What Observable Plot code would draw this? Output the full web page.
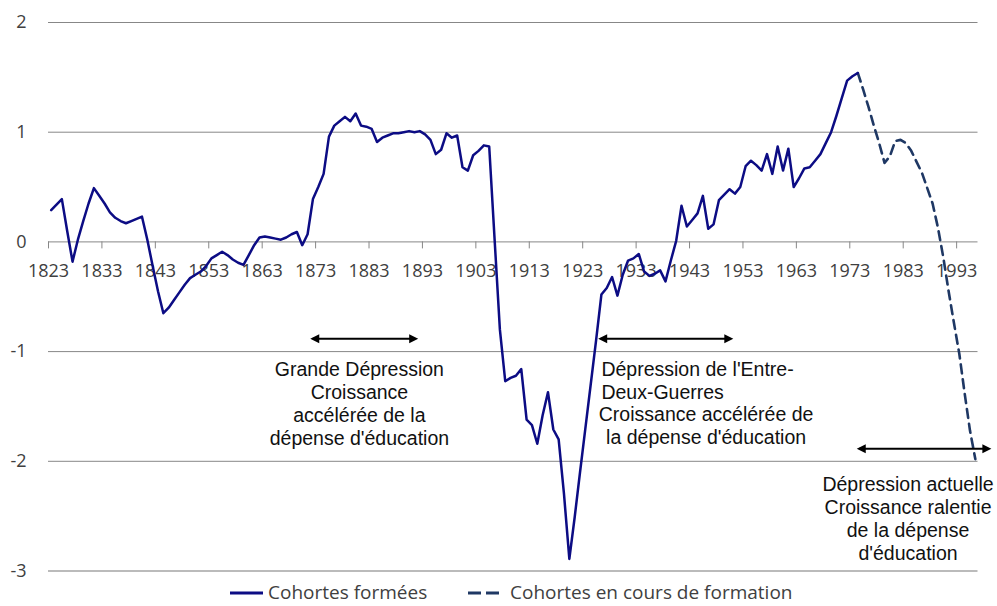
<!DOCTYPE html>
<html><head><meta charset="utf-8">
<script src="https://cdn.jsdelivr.net/npm/d3@7"></script>
<script src="https://cdn.jsdelivr.net/npm/@observablehq/plot@0.6"></script>
<style>
body{margin:0;background:#fff}
#wrap{position:relative;width:997px;height:606px;background:#fff}
.lg{position:absolute;font-family:"Open Sans",sans-serif;font-size:19px;color:#404040;line-height:20px;white-space:nowrap}
</style>
</head><body><div id="wrap"></div>
<script>
// Cohortes formées, 1823–1974
const formedStart = 1823;
const formedValues = [
  0.29,0.34,0.39,0.10,-0.18,0.02,0.19,0.35,0.49,0.42,
  0.35,0.27,0.22,0.19,0.17,0.19,0.21,0.23,0.02,-0.22,
  -0.45,-0.65,-0.60,-0.53,-0.46,-0.39,-0.33,-0.30,-0.27,-0.22,
  -0.15,-0.12,-0.09,-0.12,-0.16,-0.19,-0.21,-0.12,-0.03,0.04,
  0.05,0.04,0.03,0.02,0.04,0.07,0.09,-0.03,0.07,0.39,
  0.50,0.62,0.96,1.06,1.10,1.14,1.10,1.17,1.06,1.05,
  1.03,0.91,0.95,0.97,0.99,0.99,1.00,1.01,1.00,1.01,
  0.98,0.93,0.80,0.84,0.99,0.95,0.97,0.68,0.65,0.79,
  0.83,0.88,0.87,0.03,-0.80,-1.27,-1.24,-1.22,-1.16,-1.62,
  -1.67,-1.84,-1.58,-1.37,-1.71,-1.80,-2.30,-2.89,-2.51,-2.10,
  -1.70,-1.30,-0.90,-0.48,-0.42,-0.32,-0.49,-0.30,-0.17,-0.15,
  -0.11,-0.27,-0.31,-0.29,-0.26,-0.36,-0.17,0.01,0.33,0.14,
  0.20,0.26,0.42,0.12,0.16,0.38,0.43,0.48,0.44,0.50,
  0.69,0.74,0.70,0.65,0.80,0.62,0.87,0.65,0.85,0.50,
  0.58,0.67,0.68,0.74,0.80,0.90,1.00,1.15,1.31,1.47,
  1.51,1.54
];
// Cohortes en cours de formation, 1974–1996
const formingStart = 1974;
const formingValues = [
  1.54,1.39,1.23,1.06,0.90,0.72,0.78,0.92,0.93,0.90,
  0.83,0.73,0.63,0.49,0.35,0.13,-0.14,-0.45,-0.74,-1.02,
  -1.38,-1.72,-1.98
];
const xTickLabels = [1823,1833,1843,1853,1863,1873,1883,1893,1903,1913,1923,1933,1943,1953,1963,1973,1983,1993];
const yTickLabels = [2,1,0,-1,-2,-3];
const seriesNames = ["Cohortes formées","Cohortes en cours de formation"];

// annotations (year span, value level)
const arrowSpans = [
  {x1:1871.5, x2:1891.7, y:-0.884},
  {x1:1925.4, x2:1950.7, y:-0.884},
  {x1:1973.8, x2:1999.0, y:-1.886}
];
const notesCentered = [
  {x:1880.7, y:-1.469, text:"Grande Dépression\nCroissance\naccélérée de la\ndépense d'éducation"},
  {x:1945.6, y:-1.669, text:"Croissance accélérée de\nla dépense d'éducation"},
  {x:1983.4, y:-2.521, text:"Dépression actuelle\nCroissance ralentie\nde la dépense\nd'éducation"}
];
const notesLeft = [
  {x:1926.0, y:-1.259, text:"Dépression de l'Entre-\nDeux-Guerres"}
];

const formed = formedValues.map((v,i)=>({year: formedStart+i, value: v}));
const forming = formingValues.map((v,i)=>({year: formingStart+i, value: v}));

const NAVY = "#0c0c84";
const DASHC = "#1f3864";
const GRID = "#878787";
const noteFont = "'Liberation Sans', Arial, sans-serif";

const triRight = {draw(ctx){ctx.moveTo(0,0);ctx.lineTo(-9,-4.5);ctx.lineTo(-9,4.5);ctx.closePath();}};
const triLeft = {draw(ctx){ctx.moveTo(0,0);ctx.lineTo(9,-4.5);ctx.lineTo(9,4.5);ctx.closePath();}};

const chart = Plot.plot({
  width: 997,
  height: 575,
  marginLeft: 48,
  marginRight: 19.5,
  marginTop: 22,
  marginBottom: 4.5,
  style: {fontFamily: "'Open Sans', sans-serif", background: "white", overflow: "visible"},
  x: {domain: [1822.5, 1996.5], axis: null},
  y: {domain: [-3, 2], axis: null},
  marks: [
    Plot.ruleY(yTickLabels.filter(d => d !== -3), {y: d => d, stroke: GRID, strokeWidth: 1}),
    Plot.ruleY([-3], {y: d => d, stroke: "#a5a5a5", strokeWidth: 1.5}),
    Plot.ruleX(xTickLabels, {x: d => d - 0.5, y1: 0, y2: 0, insetBottom: -7, stroke: GRID, strokeWidth: 1}),
    Plot.text(xTickLabels, {x: d => d - 0.5, y: 0, dy: 29, text: d => String(d), fontSize: 18, fill: "#404040", lineAnchor: "middle"}),
    Plot.text(yTickLabels, {y: d => d, frameAnchor: "left", dx: -22, textAnchor: "end", text: d => String(d), fontSize: 18, fill: "#404040", lineAnchor: "middle"}),
    Plot.line(forming, {x: "year", y: "value", stroke: DASHC, strokeWidth: 2.6, strokeDasharray: "9,6"}),
    Plot.line(formed, {x: "year", y: "value", stroke: NAVY, strokeWidth: 2.5}),
    Plot.ruleY(arrowSpans, {y: "y", x1: "x1", x2: "x2", stroke: "black", strokeWidth: 2, insetLeft: 3, insetRight: 3}),
    Plot.dot(arrowSpans, {x: "x2", y: "y", symbol: triRight, fill: "black", stroke: "none"}),
    Plot.dot(arrowSpans, {x: "x1", y: "y", symbol: triLeft, fill: "black", stroke: "none"}),
    Plot.text(notesCentered, {x: "x", y: "y", text: "text", textAnchor: "middle", lineAnchor: "middle", lineHeight: 1.18, fontSize: 19.5, fill: "#111", fontFamily: noteFont}),
    Plot.text(notesLeft, {x: "x", y: "y", text: "text", textAnchor: "start", lineAnchor: "middle", lineHeight: 1.18, fontSize: 19.5, fill: "#111", fontFamily: noteFont})
  ]
});
const wrap = document.getElementById("wrap");
wrap.appendChild(chart);

// legend below the chart
const legendPos = [{sw: 230, sww: 33, tx: 268, dash: null}, {sw: 468, sww: 31, tx: 510, dash: "13,5"}];
seriesNames.forEach((name, i) => {
  const p = legendPos[i];
  const svg = d3.select(wrap).append("svg")
    .attr("width", p.sww).attr("height", 6)
    .style("position", "absolute").style("left", p.sw + "px").style("top", "590px");
  svg.append("line").attr("x1", 0).attr("x2", p.sww).attr("y1", 3).attr("y2", 3)
    .attr("stroke", i === 0 ? NAVY : DASHC).attr("stroke-width", 3)
    .attr("stroke-dasharray", p.dash);
  d3.select(wrap).append("div").attr("class", "lg")
    .style("left", p.tx + "px").style("top", "582px").text(name);
});
</script>
</body></html>
